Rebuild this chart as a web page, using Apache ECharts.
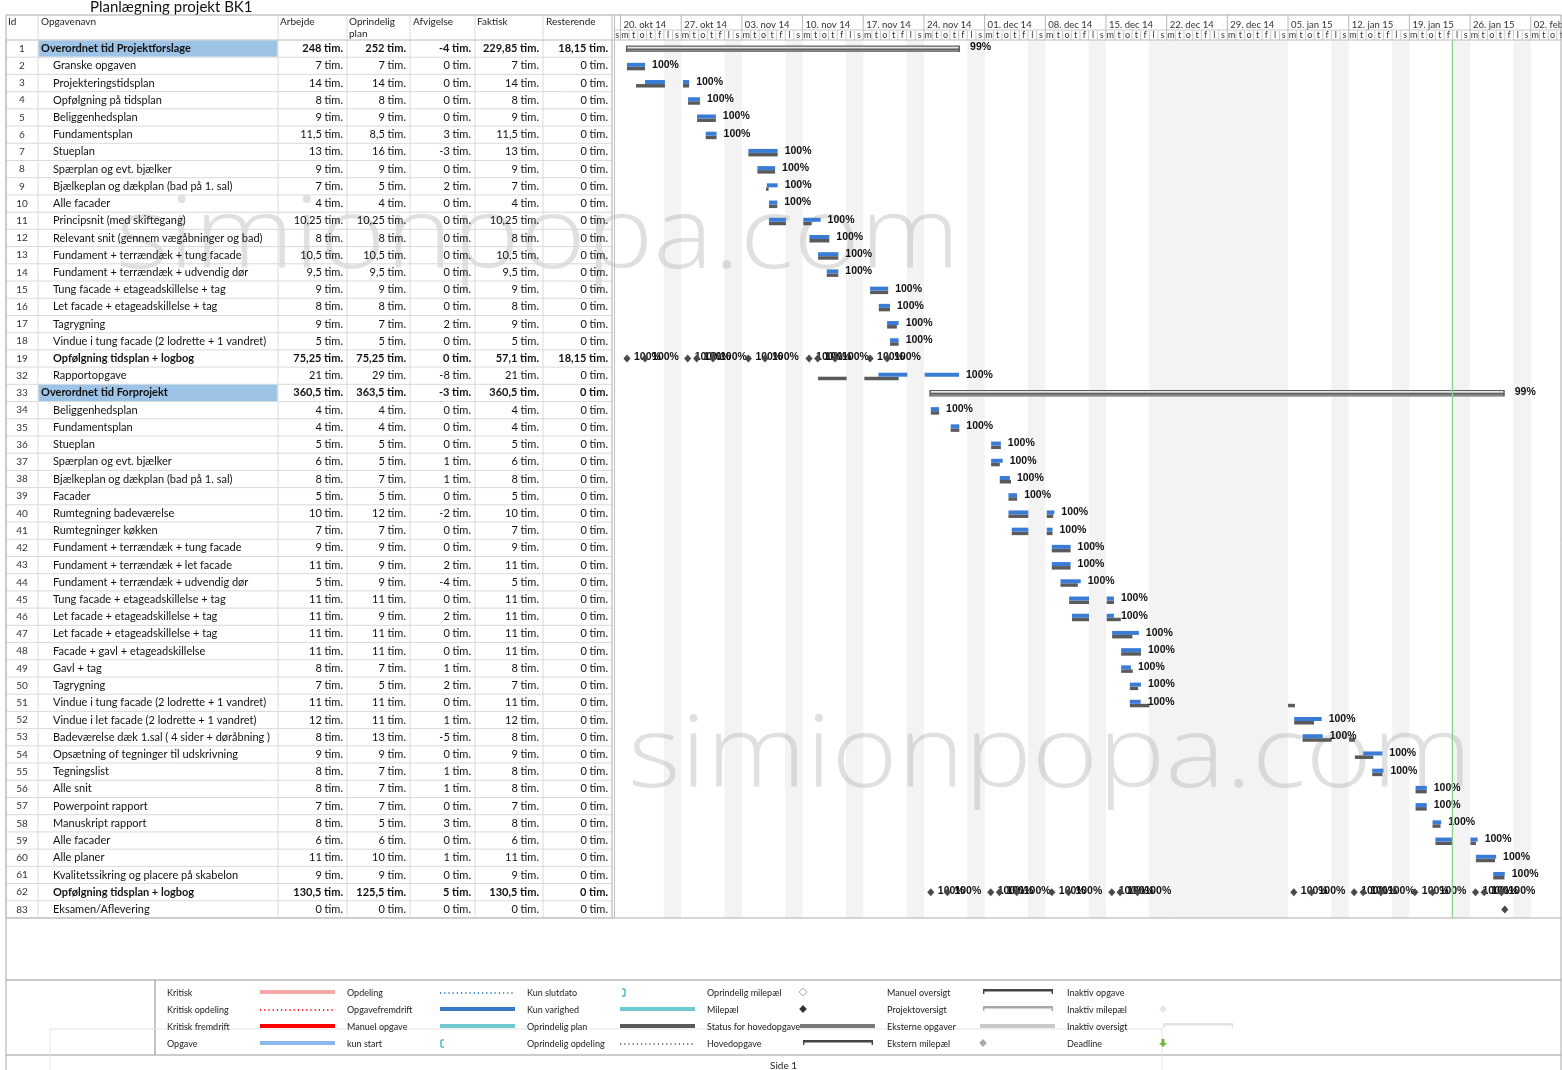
<!DOCTYPE html>
<html><head><meta charset="utf-8">
<script src="https://cdn.jsdelivr.net/npm/echarts@6.0.0/dist/echarts.min.js"></script>
<style>html,body{margin:0;padding:0;background:#fff}#c{width:1562px;height:1070px}</style>
</head><body><div id="c"></div><script>
// ---------- DATA ----------
const ids = [1,2,3,4,5,6,7,8,9,10,11,12,13,14,15,16,17,18,19,32,33,34,35,36,37,38,39,40,41,42,43,44,45,46,47,48,49,50,51,52,53,54,55,56,57,58,59,60,61,62,83];
const taskNames = ['Overordnet tid Projektforslage','Granske opgaven','Projekteringstidsplan','Opfølgning på tidsplan','Beliggenhedsplan','Fundamentsplan','Stueplan','Spærplan og evt. bjælker','Bjælkeplan og dækplan (bad på 1. sal)','Alle facader','Principsnit (med skiftegang)','Relevant snit (gennem vægåbninger og bad)','Fundament + terrændæk + tung facade','Fundament + terrændæk + udvendig dør','Tung facade + etageadskillelse + tag','Let facade + etageadskillelse + tag','Tagrygning','Vindue i tung facade (2 lodrette + 1 vandret)','Opfølgning tidsplan + logbog','Rapportopgave','Overordnet tid Forprojekt','Beliggenhedsplan','Fundamentsplan','Stueplan','Spærplan og evt. bjælker','Bjælkeplan og dækplan (bad på 1. sal)','Facader','Rumtegning badeværelse','Rumtegninger køkken','Fundament + terrændæk + tung facade','Fundament + terrændæk + let facade','Fundament + terrændæk + udvendig dør','Tung facade + etageadskillelse + tag','Let facade + etageadskillelse + tag','Let facade + etageadskillelse + tag','Facade + gavl + etageadskillelse','Gavl + tag','Tagrygning','Vindue i tung facade (2 lodrette + 1 vandret)','Vindue i let facade (2 lodrette + 1 vandret)','Badeværelse dæk 1.sal ( 4 sider + døråbning )','Opsætning of tegninger til udskrivning','Tegningslist','Alle snit','Powerpoint rapport','Manuskript rapport','Alle facader','Alle planer','Kvalitetssikring og placere på skabelon','Opfølgning tidsplan + logbog','Eksamen/Aflevering'];
const arbejde =    [248,7,14,8,9,11.5,13,9,7,4,10.25,8,10.5,9.5,9,8,9,5,75.25,21,360.5,4,4,5,6,8,5,10,7,9,11,5,11,11,11,11,8,7,11,12,8,9,8,8,7,8,6,11,9,130.5,0];
const oprindelig = [252,7,14,8,9,8.5,16,9,5,4,10.25,8,10.5,9.5,9,8,7,5,75.25,29,363.5,4,4,5,5,7,5,12,7,9,9,9,11,9,11,11,7,5,11,11,13,9,7,7,7,5,6,10,9,125.5,0];
const afvigelse =  [-4,0,0,0,0,3,-3,0,2,0,0,0,0,0,0,0,2,0,0,-8,-3,0,0,0,1,1,0,-2,0,0,2,-4,0,2,0,0,1,2,0,1,-5,0,1,1,0,3,0,1,0,5,0];
const faktisk =    [229.85,7,14,8,9,11.5,13,9,7,4,10.25,8,10.5,9.5,9,8,9,5,57.1,21,360.5,4,4,5,6,8,5,10,7,9,11,5,11,11,11,11,8,7,11,12,8,9,8,8,7,8,6,11,9,130.5,0];
const resterende = [18.15,0,0,0,0,0,0,0,0,0,0,0,0,0,0,0,0,0,18.15,0,0,0,0,0,0,0,0,0,0,0,0,0,0,0,0,0,0,0,0,0,0,0,0,0,0,0,0,0,0,0,0];
const boldRows = [1,19,33,62];
const highlightRows = [1,33];
const summaryBars = [[1,'2014-10-20 15:00','2014-11-28 04:00',99],[33,'2014-11-24 15:00','2015-01-30 00:00',99]];
const baselineBars = [
 [2,'2014-10-20 18:00','2014-10-22 20:00'],[3,'2014-10-21 19:00','2014-10-25 03:00'],[3,'2014-10-27 05:00','2014-10-27 22:00'],
 [4,'2014-10-27 19:00','2014-10-29 04:00'],[5,'2014-10-28 20:00','2014-10-31 00:00'],[6,'2014-10-29 20:00','2014-10-31 02:00'],
 [7,'2014-11-03 18:00','2014-11-07 03:00'],[8,'2014-11-04 19:00','2014-11-06 20:00'],[9,'2014-11-05 19:00','2014-11-06 02:00'],
 [10,'2014-11-06 03:00','2014-11-07 02:00'],[11,'2014-11-06 03:00','2014-11-08 02:00'],[11,'2014-11-10 02:00','2014-11-11 01:00'],
 [12,'2014-11-10 19:00','2014-11-13 02:00'],[13,'2014-11-11 19:00','2014-11-14 03:00'],[14,'2014-11-12 19:00','2014-11-14 03:00'],
 [15,'2014-11-17 19:00','2014-11-19 21:00'],[16,'2014-11-18 19:00','2014-11-20 02:00'],[17,'2014-11-19 18:00','2014-11-20 21:00'],
 [18,'2014-11-20 02:00','2014-11-21 02:00'],[32,'2014-11-11 19:00','2014-11-15 02:00'],[32,'2014-11-17 03:00','2014-11-21 02:00'],
 [34,'2014-11-24 19:00','2014-11-25 18:00'],[35,'2014-11-27 02:00','2014-11-28 02:00'],[36,'2014-12-01 18:00','2014-12-02 21:00'],
 [37,'2014-12-01 18:00','2014-12-02 18:00'],[38,'2014-12-02 18:00','2014-12-04 01:00'],[39,'2014-12-03 18:00','2014-12-04 18:00'],
 [40,'2014-12-03 18:00','2014-12-06 01:00'],[40,'2014-12-08 04:00','2014-12-08 22:00'],[41,'2014-12-04 03:00','2014-12-06 01:00'],
 [41,'2014-12-08 04:00','2014-12-08 20:00'],[42,'2014-12-08 18:00','2014-12-10 22:00'],[43,'2014-12-08 18:00','2014-12-10 22:00'],
 [44,'2014-12-09 18:00','2014-12-11 18:00'],[45,'2014-12-10 18:00','2014-12-13 01:00'],[45,'2014-12-15 02:00','2014-12-15 22:00'],
 [46,'2014-12-11 02:00','2014-12-13 01:00'],[46,'2014-12-15 02:00','2014-12-16 17:00'],[47,'2014-12-15 17:00','2014-12-18 01:00'],
 [48,'2014-12-16 18:00','2014-12-19 01:00'],[49,'2014-12-16 18:00','2014-12-18 02:00'],[50,'2014-12-17 18:00','2014-12-18 17:00'],
 [51,'2014-12-17 18:00','2014-12-20 00:00'],[51,'2015-01-05 00:00','2015-01-05 19:00'],[52,'2015-01-05 17:00','2015-01-08 00:00'],
 [53,'2015-01-06 16:00','2015-01-10 01:00'],[53,'2015-01-12 01:00','2015-01-12 17:00'],[54,'2015-01-12 17:00','2015-01-14 20:00'],
 [55,'2015-01-14 17:00','2015-01-15 21:00'],[56,'2015-01-19 17:00','2015-01-21 00:00'],[57,'2015-01-19 17:00','2015-01-21 00:00'],
 [58,'2015-01-21 16:00','2015-01-22 14:00'],[59,'2015-01-22 00:00','2015-01-23 23:00'],[59,'2015-01-26 01:00','2015-01-26 16:00'],
 [60,'2015-01-26 16:00','2015-01-28 21:00'],[61,'2015-01-28 16:00','2015-01-29 23:00']
];
const actualBars = [
 [2,'2014-10-20 18:00','2014-10-22 20:00'],[3,'2014-10-22 20:00','2014-10-25 03:00'],[3,'2014-10-27 05:00','2014-10-27 22:00'],
 [4,'2014-10-27 19:00','2014-10-29 04:00'],[5,'2014-10-28 20:00','2014-10-31 00:00'],[6,'2014-10-29 20:00','2014-10-31 02:00'],
 [7,'2014-11-03 18:00','2014-11-07 03:00'],[8,'2014-11-04 19:00','2014-11-06 20:00'],[9,'2014-11-05 21:00','2014-11-07 03:00'],
 [10,'2014-11-06 03:00','2014-11-07 02:00'],[11,'2014-11-06 03:00','2014-11-08 02:00'],[11,'2014-11-10 02:00','2014-11-12 02:00'],
 [12,'2014-11-10 19:00','2014-11-13 02:00'],[13,'2014-11-11 19:00','2014-11-14 03:00'],[14,'2014-11-12 19:00','2014-11-14 03:00'],
 [15,'2014-11-17 19:00','2014-11-19 21:00'],[16,'2014-11-18 19:00','2014-11-20 02:00'],[17,'2014-11-19 18:00','2014-11-21 02:00'],
 [18,'2014-11-20 02:00','2014-11-21 02:00'],[32,'2014-11-18 18:00','2014-11-22 02:00'],[32,'2014-11-24 02:00','2014-11-28 01:00'],
 [34,'2014-11-24 19:00','2014-11-25 18:00'],[35,'2014-11-27 02:00','2014-11-28 02:00'],[36,'2014-12-01 18:00','2014-12-02 21:00'],
 [37,'2014-12-01 18:00','2014-12-03 02:00'],[38,'2014-12-02 18:00','2014-12-03 22:00'],[39,'2014-12-03 18:00','2014-12-04 18:00'],
 [40,'2014-12-03 18:00','2014-12-06 01:00'],[40,'2014-12-08 04:00','2014-12-09 01:00'],[41,'2014-12-04 03:00','2014-12-06 01:00'],
 [41,'2014-12-08 04:00','2014-12-08 20:00'],[42,'2014-12-08 18:00','2014-12-10 22:00'],[43,'2014-12-08 18:00','2014-12-10 22:00'],
 [44,'2014-12-09 18:00','2014-12-12 02:00'],[45,'2014-12-10 18:00','2014-12-13 01:00'],[45,'2014-12-15 02:00','2014-12-15 22:00'],
 [46,'2014-12-11 02:00','2014-12-13 01:00'],[46,'2014-12-15 02:00','2014-12-15 22:00'],[47,'2014-12-15 17:00','2014-12-18 19:00'],
 [48,'2014-12-16 18:00','2014-12-19 01:00'],[49,'2014-12-16 18:00','2014-12-17 21:00'],[50,'2014-12-17 18:00','2014-12-19 01:00'],
 [51,'2014-12-17 18:00','2014-12-19 00:00'],[52,'2015-01-05 17:00','2015-01-08 21:00'],[53,'2015-01-06 16:00','2015-01-09 00:00'],
 [54,'2015-01-13 16:00','2015-01-15 21:00'],[55,'2015-01-14 17:00','2015-01-16 00:00'],[56,'2015-01-19 17:00','2015-01-21 00:00'],
 [57,'2015-01-19 17:00','2015-01-21 00:00'],[58,'2015-01-21 16:00','2015-01-22 16:00'],[59,'2015-01-22 00:00','2015-01-23 23:00'],
 [59,'2015-01-26 01:00','2015-01-26 21:00'],[60,'2015-01-26 16:00','2015-01-29 00:00'],[61,'2015-01-28 16:00','2015-01-30 00:00']
];
const taskComplete = 100;
const milestones = [
 [19,'2014-10-20 18:00',100],[19,'2014-10-22 20:00',100],[19,'2014-10-27 18:00',100],[19,'2014-10-28 19:00',100],[19,'2014-10-30 16:00',100],
 [19,'2014-11-03 18:00',100],[19,'2014-11-05 16:00',100],[19,'2014-11-10 18:00',100],[19,'2014-11-11 18:00',100],[19,'2014-11-13 18:00',100],
 [19,'2014-11-17 19:00',100],[19,'2014-11-19 18:00',100],
 [62,'2014-11-24 19:00',100],[62,'2014-11-26 17:00',100],[62,'2014-12-01 17:00',100],[62,'2014-12-02 17:00',100],[62,'2014-12-04 17:00',100],
 [62,'2014-12-08 18:00',100],[62,'2014-12-10 16:00',100],[62,'2014-12-15 16:00',100],[62,'2014-12-16 15:00',100],[62,'2014-12-18 15:00',100],
 [62,'2015-01-05 16:00',100],[62,'2015-01-07 17:00',100],[62,'2015-01-12 15:00',100],[62,'2015-01-13 16:00',100],[62,'2015-01-15 17:00',100],
 [62,'2015-01-19 15:00',100],[62,'2015-01-21 16:00',100],[62,'2015-01-26 15:00',100],[62,'2015-01-27 15:00',100],[62,'2015-01-29 15:00',100],
 [83,'2015-01-30 00:00',null]
];
const holidays = [['2014-12-20 00:00','2015-01-05 00:00']];
const statusDate = '2015-01-23 23:00';
const timeStart = '2014-10-19 06:00', timeEnd = '2015-02-05 14:24';
const monthNames = ['jan','feb','mar','apr','maj','jun','jul','aug','sep','okt','nov','dec'];
const dayLetters = ['s','m','t','o','t','f','l']; // Sunday first (JS getDay)

// ---------- HELPERS ----------
const T = s => new Date(s.replace(' ', 'T') + ':00').getTime();
const DAY = 86400000;
const rowOf = id => ids.indexOf(id);
const fmt = v => String(v).replace('.', ',') + ' tim.';
const FONT = 'Lato';
const axisMin = T(timeStart), axisMax = T(timeEnd);

const nonWork = [];
for (let t = T('2014-10-20 00:00'); t < axisMax; t += DAY) {
  const d = new Date(t);
  if (d.getDay() === 6) nonWork.push([t, t + 2 * DAY, 0]);
}
holidays.forEach(h => nonWork.push([T(h[0]), T(h[1]), 0]));

const days = [];
for (let t = T('2014-10-19 00:00'); t < axisMax; t += DAY) days.push([t, t + DAY, 0]);

const pctLabels = [];
summaryBars.forEach(b => pctLabels.push([rowOf(b[0]), T(b[2]), b[3] + '%', 10]));
const lastEnd = {};
actualBars.forEach(b => { const e = T(b[2]); if (!(b[0] in lastEnd) || e > lastEnd[b[0]]) lastEnd[b[0]] = e; });
Object.keys(lastEnd).forEach(id => pctLabels.push([rowOf(+id), lastEnd[id], taskComplete + '%', 7]));

const chart = echarts.init(document.getElementById('c'));

function barRender(color, y0, h) {
  return function (p, api) {
    const r = api.value(0);
    const a = api.coord([api.value(1), r]), b = api.coord([api.value(2), r]);
    return { type: 'rect', shape: { x: a[0], y: a[1] + y0, width: Math.max(b[0] - a[0], 1), height: h }, style: { fill: color } };
  };
}

const colEdges = [0, 32, 272, 341, 404, 469, 537, 606];
const numCols = [arbejde, oprindelig, afvigelse, faktisk, resterende];

const series = [
  { // nonworking shading
    type: 'custom', xAxisIndex: 1, yAxisIndex: 1, z: 0, silent: true,
    encode: { x: [0, 1] }, data: nonWork, clip: true,
    renderItem: (p, api) => {
      const a = api.coord([api.value(0), 0]), b = api.coord([api.value(1), 0]);
      const cs = p.coordSys;
      return { type: 'rect', shape: { x: a[0], y: cs.y, width: b[0] - a[0], height: cs.height }, style: { fill: '#f3f3f3' } };
    }
  },
  { // table
    type: 'custom', xAxisIndex: 0, yAxisIndex: 0, z: 3, silent: true,
    encode: { x: 0, y: 1 }, data: ids.map((id, i) => [0, i]),
    renderItem: (p, api) => {
      const i = api.value(1);
      const id = ids[i];
      const c = api.coord([0, i]);
      const h = api.size([0, 1])[1];
      const top = c[1] - h / 2;
      const X = v => api.coord([v, i])[0];
      const bold = boldRows.includes(id);
      const ch = [];
      if (highlightRows.includes(id)) ch.push({ type: 'rect', shape: { x: X(32) + 0.5, y: top + 0.5, width: X(272) - X(32) - 1, height: h - 1 }, style: { fill: '#9dc3e6' } });
      ch.push({ type: 'line', shape: { x1: X(0), y1: top + h, x2: X(606), y2: top + h }, style: { stroke: '#dadada', lineWidth: 1 } });
      colEdges.forEach(e => ch.push({ type: 'line', shape: { x1: X(e), y1: top, x2: X(e), y2: top + h }, style: { stroke: '#dadada', lineWidth: 1 } }));
      ch.push({ type: 'text', style: { text: String(id), x: X(16), y: c[1], align: 'center', verticalAlign: 'middle', font: `10px ${FONT}`, fill: '#333' } });
      const indent = highlightRows.includes(id) ? 35 : 47;
      ch.push({ type: 'text', style: { text: taskNames[i], x: X(indent), y: c[1], verticalAlign: 'middle', font: `${bold ? 'bold ' : ''}11px ${FONT}`, fill: '#111' } });
      numCols.forEach((arr, k) => ch.push({ type: 'text', style: { text: fmt(arr[i]), x: X(colEdges[k + 3]) - 4, y: c[1], align: 'right', verticalAlign: 'middle', font: `${bold ? 'bold ' : ''}11px ${FONT}`, fill: '#111' } }));
      return { type: 'group', children: ch };
    }
  },
  { // gantt header
    type: 'custom', xAxisIndex: 2, yAxisIndex: 2, z: 3, silent: true, clip: true,
    encode: { x: [0, 1] }, data: days,
    renderItem: (p, api) => {
      const cs = p.coordSys;
      const t = api.value(0);
      const a = api.coord([t, 0])[0], b = api.coord([api.value(1), 0])[0];
      const d = new Date(t);
      const ch = [];
      const mid = (Math.max(a, cs.x) + b) / 2;
      ch.push({ type: 'text', style: { text: dayLetters[d.getDay()], x: mid, y: cs.y + 20.5, align: 'center', verticalAlign: 'middle', font: `9px ${FONT}`, fill: '#333' } });
      if (d.getDay() === 1) {
        ch.push({ type: 'line', shape: { x1: a, y1: cs.y, x2: a, y2: cs.y + cs.height }, style: { stroke: '#b8b8b8', lineWidth: 1 } });
        const lbl = `${String(d.getDate()).padStart(2, '0')}. ${monthNames[d.getMonth()]} ${String(d.getFullYear()).slice(2)}`;
        ch.push({ type: 'text', style: { text: lbl, x: a + 3, y: cs.y + 9.5, verticalAlign: 'middle', font: `9.5px ${FONT}`, fill: '#333' } });
      } else {
        ch.push({ type: 'line', shape: { x1: a, y1: cs.y + 15.5, x2: a, y2: cs.y + cs.height }, style: { stroke: '#c8c8c8', lineWidth: 1 } });
      }
      return { type: 'group', children: ch };
    }
  },
  { // baseline
    type: 'custom', xAxisIndex: 1, yAxisIndex: 1, z: 4, silent: true, encode: { x: [1, 2], y: 0 },
    data: baselineBars.map(b => [rowOf(b[0]), T(b[1]), T(b[2])]),
    renderItem: barRender('#5a5a5a', 1, 3.5)
  },
  { // actual / progress
    type: 'custom', xAxisIndex: 1, yAxisIndex: 1, z: 5, silent: true, encode: { x: [1, 2], y: 0 },
    data: actualBars.map(b => [rowOf(b[0]), T(b[1]), T(b[2])]),
    renderItem: barRender('#3a7bd5', -3, 4)
  },
  { // summary
    type: 'custom', xAxisIndex: 1, yAxisIndex: 1, z: 5, silent: true, encode: { x: [1, 2], y: 0 },
    data: summaryBars.map(b => [rowOf(b[0]), T(b[1]), T(b[2])]),
    renderItem: (p, api) => {
      const r = api.value(0);
      const a = api.coord([api.value(1), r]), b = api.coord([api.value(2), r]);
      const w = b[0] - a[0];
      return { type: 'group', children: [
        { type: 'rect', shape: { x: a[0], y: a[1] - 3, width: w, height: 6.5 }, style: { fill: '#5e5e5e' } },
        { type: 'rect', shape: { x: a[0] + 1.5, y: a[1] - 1.8, width: w - 3, height: 1.6 }, style: { fill: '#e6e6e6' } },
        { type: 'rect', shape: { x: a[0] + 1.5, y: a[1] + 1.6, width: w - 3, height: 1.2 }, style: { fill: '#9a9a9a' } }
      ] };
    }
  },
  { // milestones
    type: 'custom', xAxisIndex: 1, yAxisIndex: 1, z: 6, silent: true, encode: { x: 1, y: 0 },
    data: milestones.map(m => [rowOf(m[0]), T(m[1])]),
    renderItem: (p, api) => {
      const c = api.coord([api.value(1), api.value(0)]);
      const m = milestones[p.dataIndex];
      const ch = [{ type: 'polygon', shape: { points: [[c[0], c[1] - 4], [c[0] + 3.6, c[1]], [c[0], c[1] + 4], [c[0] - 3.6, c[1]]] }, style: { fill: '#4a4a4a' } }];
      if (m[2] != null) ch.push({ type: 'text', style: { text: m[2] + '%', x: c[0] + 7, y: c[1] - 1, verticalAlign: 'middle', font: 'bold 10.5px "Liberation Sans"', fill: '#111' } });
      return { type: 'group', children: ch };
    }
  },
  { // percent labels
    type: 'custom', xAxisIndex: 1, yAxisIndex: 1, z: 6, silent: true, encode: { x: 1, y: 0 },
    data: pctLabels.map(l => [l[0], l[1]]),
    renderItem: (p, api) => {
      const c = api.coord([api.value(1), api.value(0)]);
      const l = pctLabels[p.dataIndex];
      return { type: 'text', style: { text: l[2], x: c[0] + l[3], y: c[1] - 1, verticalAlign: 'middle', font: 'bold 10.5px "Liberation Sans"', fill: '#111' } };
    }
  },
  { // status date line
    type: 'custom', xAxisIndex: 1, yAxisIndex: 1, z: 7, silent: true, encode: { x: 0 },
    data: [[T(statusDate), 0]],
    renderItem: (p, api) => {
      const x = api.coord([api.value(0), 0])[0];
      const cs = p.coordSys;
      return { type: 'line', shape: { x1: x, y1: cs.y, x2: x, y2: cs.y + cs.height }, style: { stroke: '#8fcf8f', lineWidth: 1.3 } };
    }
  }
];

// ---------- STATIC DECORATION (frame, headers, legend) ----------
const G = [];
const L = (x1, y1, x2, y2, c, w, dash) => G.push({ type: 'line', silent: true, z: 10, shape: { x1, y1, x2, y2 }, style: { stroke: c, lineWidth: w || 1, lineDash: dash || null } });
const TX = (t, x, y, font, fill, align) => G.push({ type: 'text', silent: true, z: 10, style: { text: t, x, y, font, fill: fill || '#222', align: align || 'left', verticalAlign: 'middle' } });

// watermark
G.push({ type: 'text', silent: true, z: 1, x: 116, y: 190, scaleX: 1.13, style: { text: 'simionpopa.com', font: '300 100px "Open Sans"', fill: 'rgba(160,160,160,0.32)', verticalAlign: 'top' } });
G.push({ type: 'text', silent: true, z: 1, x: 628, y: 709, scaleX: 1.13, style: { text: 'simionpopa.com', font: '300 100px "Open Sans"', fill: 'rgba(160,160,160,0.32)', verticalAlign: 'top' } });

TX('Planlægning projekt BK1', 90, 7.5, `15px ${FONT}`, '#111');
L(6, 15, 1561, 15, '#a8a8a8'); L(6, 40, 1561, 40, '#bdbdbd'); L(614, 30, 1561, 30, '#c8c8c8');
L(6, 918, 1561, 918, '#b0b0b0');
L(6, 15, 6, 1070, '#a8a8a8'); L(1561, 15, 1561, 1070, '#a8a8a8');
L(612, 15, 612, 918, '#bdbdbd'); L(614.5, 15, 614.5, 918, '#bdbdbd');
[38, 278, 347, 410, 475, 543].forEach(x => L(x, 15, x, 40, '#dadada'));
TX('Id', 8, 22, `10px ${FONT}`); TX('Opgavenavn', 41, 22, `10px ${FONT}`); TX('Arbejde', 280, 22, `10px ${FONT}`);
TX('Oprindelig', 349, 22, `10px ${FONT}`); TX('plan', 349, 34, `10px ${FONT}`); TX('Afvigelse', 413, 22, `10px ${FONT}`);
TX('Faktisk', 477, 22, `10px ${FONT}`); TX('Resterende', 546, 22, `10px ${FONT}`);

L(6, 980, 1561, 980, '#9a9a9a', 1.2); L(6, 1055, 1561, 1055, '#9a9a9a', 1.2); L(155, 980, 155, 1055, '#9a9a9a', 1.2);
L(50, 1029, 1162, 1029, '#e4e4e4'); L(50, 1029, 50, 1070, '#e4e4e4'); L(1162, 1029, 1162, 1070, '#e4e4e4');
TX('Side 1', 770, 1066, `10px ${FONT}`, '#222');

const legendCols = [
  [['Kritisk', 'line', '#f4a8a8'], ['Kritisk opdeling', 'dots', '#ff2020'], ['Kritisk fremdrift', 'line', '#ff0000'], ['Opgave', 'line', '#8ab8ea']],
  [['Opdeling', 'dots', '#4a8fd6'], ['Opgavefremdrift', 'line', '#3a78c8'], ['Manuel opgave', 'line', '#6fcad0'], ['kun start', 'lbr', '#4fb8c0']],
  [['Kun slutdato', 'rbr', '#4fb8c0'], ['Kun varighed', 'line', '#6fcad0'], ['Oprindelig plan', 'line', '#5a5a5a'], ['Oprindelig opdeling', 'dots', '#7a7a7a']],
  [['Oprindelig milepæl', 'hdia', '#aaaaaa'], ['Milepæl', 'dia', '#333333'], ['Status for hovedopgave', 'line', '#7a7a7a'], ['Hovedopgave', 'sum', '#444444']],
  [['Manuel oversigt', 'sum', '#444444'], ['Projektoversigt', 'sum', '#a8a8a8'], ['Eksterne opgaver', 'line', '#c8c8c8'], ['Ekstern milepæl', 'dia', '#a8a8a8']],
  [['Inaktiv opgave', 'none', ''], ['Inaktiv milepæl', 'dia', '#e6e6e6'], ['Inaktiv oversigt', 'sum', '#e2e2e2'], ['Deadline', 'dead', '#72b43c']]
];
legendCols.forEach((col, ci) => {
  const lx = 167 + ci * 180, sx = lx + 93;
  col.forEach((it, ri) => {
    const y = 993 + ri * 17;
    TX(it[0], lx, y, `9px ${FONT}`, '#222');
    const c = it[2];
    if (it[1] === 'line') G.push({ type: 'rect', silent: true, z: 10, shape: { x: sx, y: y - 3, width: 75, height: 4 }, style: { fill: c } });
    else if (it[1] === 'dots') L(sx, y, sx + 75, y, c, 2, [1.2, 3]);
    else if (it[1] === 'lbr') { L(sx + 1, y - 4, sx + 1, y + 3, c, 1.5); L(sx + 1, y - 4, sx + 4, y - 4, c, 1.5); L(sx + 1, y + 3, sx + 4, y + 3, c, 1.5); }
    else if (it[1] === 'rbr') { L(sx + 5, y - 4, sx + 5, y + 3, c, 1.5); L(sx + 2, y - 4, sx + 5, y - 4, c, 1.5); L(sx + 2, y + 3, sx + 5, y + 3, c, 1.5); }
    else if (it[1] === 'dia' || it[1] === 'hdia') {
      const dx = sx + 3;
      G.push({ type: 'polygon', silent: true, z: 10, shape: { points: [[dx, y - 5], [dx + 3.8, y - 1], [dx, y + 3], [dx - 3.8, y - 1]] }, style: it[1] === 'dia' ? { fill: c } : { fill: '#fff', stroke: c, lineWidth: 1 } });
    }
    else if (it[1] === 'sum') {
      G.push({ type: 'rect', silent: true, z: 10, shape: { x: sx + 3, y: y - 4, width: 70, height: 2.5 }, style: { fill: c } });
      L(sx + 3.7, y - 4, sx + 3.7, y + 1, c, 1.4); L(sx + 72.3, y - 4, sx + 72.3, y + 1, c, 1.4);
    }
    else if (it[1] === 'dead') {
      G.push({ type: 'polygon', silent: true, z: 10, shape: { points: [[sx + 1.5, y - 5], [sx + 4.5, y - 5], [sx + 4.5, y - 1], [sx + 7, y - 1], [sx + 3, y + 3], [sx - 1, y - 1], [sx + 1.5, y - 1]] }, style: { fill: c } });
    }
  });
});

chart.setOption({
  animation: false,
  backgroundColor: '#fff',
  grid: [
    { left: 6, top: 40, width: 606, height: 878 },
    { left: 614, top: 40, width: 948, height: 878 },
    { left: 614, top: 15, width: 948, height: 25 }
  ],
  xAxis: [
    { type: 'value', gridIndex: 0, min: 0, max: 606, show: false },
    { type: 'time', gridIndex: 1, min: axisMin, max: axisMax, show: false },
    { type: 'time', gridIndex: 2, min: axisMin, max: axisMax, show: false }
  ],
  yAxis: [
    { type: 'category', gridIndex: 0, data: ids.map(String), inverse: true, show: false },
    { type: 'category', gridIndex: 1, data: ids.map(String), inverse: true, show: false },
    { type: 'value', gridIndex: 2, min: 0, max: 1, show: false }
  ],
  series: series,
  graphic: G
});
</script></body></html>
